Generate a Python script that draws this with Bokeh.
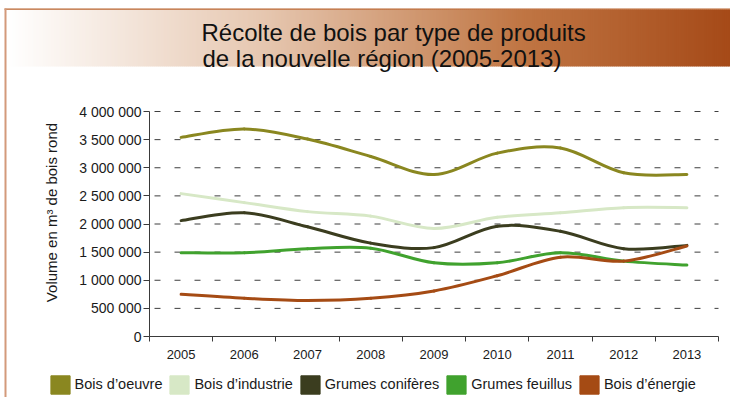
import math
from bokeh.plotting import figure
from bokeh.models import FixedTicker, Legend, LegendItem, Range1d, LinearAxis
from bokeh.core.properties import value
from bokeh.embed import file_html
from bokeh.resources import INLINE

# ---------------- data ----------------
years = ["2005", "2006", "2007", "2008", "2009", "2010", "2011", "2012", "2013"]
bois_oeuvre = [3540000, 3690000, 3510000, 3200000, 2880000, 3260000, 3350000, 2910000, 2880000]
bois_industrie = [2540000, 2380000, 2220000, 2140000, 1920000, 2120000, 2200000, 2290000, 2290000]
grumes_coniferes = [2060000, 2200000, 1950000, 1660000, 1580000, 1960000, 1870000, 1560000, 1620000]
grumes_feuillus = [1490000, 1490000, 1560000, 1570000, 1310000, 1310000, 1490000, 1340000, 1270000]
bois_energie = [750000, 680000, 640000, 680000, 810000, 1080000, 1410000, 1340000, 1610000]

series_names = ["Bois d\u2019oeuvre", "Bois d\u2019industrie", "Grumes conif\u00e8res",
                "Grumes feuillus", "Bois d\u2019\u00e9nergie"]
series_colors = ["#8A8720", "#D7E8C6", "#3B3D1F", "#40A22E", "#A54B14"]

y_ticks = [0, 500000, 1000000, 1500000, 2000000, 2500000, 3000000, 3500000, 4000000]
y_tick_labels = ["0", "500 000", "1 000 000", "1 500 000", "2 000 000",
                 "2 500 000", "3 000 000", "3 500 000", "4 000 000"]

title_lines = ["R\u00e9colte de bois par type de produits",
               "de la nouvelle r\u00e9gion (2005-2013)"]
y_label = ["Volume en m\u00b3 de bois rond"]

FONT = "Liberation Sans"

# ---------------- geometry (pixels) ----------------
W, H = 730, 397
PL, PR, PT, PB = 149, 718, 111, 336   # plot area in canvas pixels
ncat = len(years)
ymax = y_ticks[-1]
ux = (PR - PL) / ncat           # px per category
uy = (PB - PT) / ymax           # px per unit value


def X(px):
    return (px - PL) / ux


def Y(py):
    return (PB - py) / uy


p = figure(width=W, height=H, x_range=Range1d(X(0), X(W)), y_range=Range1d(Y(H), Y(0)),
           output_backend="svg", toolbar_location=None, min_border=0,
           x_axis_location=None, y_axis_location=None, outline_line_color=None)
p.grid.visible = False

# ---------------- frame decoration & title band ----------------
stops = [(0.0, (255, 255, 255)), (0.35, (230, 199, 176)), (0.7, (192, 118, 68)), (1.0, (164, 72, 22))]


def grad(f):
    for (f0, c0), (f1, c1) in zip(stops[:-1], stops[1:]):
        if f <= f1:
            t = (f - f0) / (f1 - f0)
            return "#%02x%02x%02x" % tuple(int(round(a + (b - a) * t)) for a, b in zip(c0, c1))
    return "#%02x%02x%02x" % stops[-1][1]


band_l, band_r, band_t, band_b = 6, W, 9, 66
step = 2
sl = list(range(band_l, band_r, step))
p.quad(left=[X(a) for a in sl], right=[X(a + step + 0.6) for a in sl],
       top=Y(band_t), bottom=Y(band_b),
       fill_color=[grad((a - band_l) / (738 - band_l)) for a in sl], line_color=None)
p.quad(left=X(4), right=X(W), top=Y(8), bottom=Y(9.3), fill_color="#B8622C", line_color=None)
p.quad(left=X(4), right=X(6), top=Y(8), bottom=Y(H), fill_color="#D39A7B", line_color=None)

p.text(x=[X(201), X(202)], y=[Y(32), Y(58)], text=title_lines, text_font=value(FONT),
       text_font_size="24px", text_color="#111111", text_baseline="alphabetic", text_align="left")

# ---------------- grid lines ----------------
p.segment(x0=0, x1=ncat, y0=y_ticks[1:], y1=y_ticks[1:], line_color="#3e3e3e",
          line_width=1, line_dash="6 14", line_dash_offset=15)

# ---------------- series (smoothed) ----------------
xpos = [i + 0.5 for i in range(ncat)]
bounds = list(range(ncat + 1))


def smooth(ys):
    n = len(ys)
    d = dict(x0=[], y0=[], x1=[], y1=[], cx0=[], cy0=[], cx1=[], cy1=[])
    for i in range(n - 1):
        ip = max(i - 1, 0)
        inn = min(i + 2, n - 1)
        d["x0"].append(xpos[i]); d["y0"].append(ys[i])
        d["x1"].append(xpos[i + 1]); d["y1"].append(ys[i + 1])
        d["cx0"].append(xpos[i] + (xpos[i + 1] - xpos[ip]) / 6)
        d["cy0"].append(ys[i] + (ys[i + 1] - ys[ip]) / 6)
        d["cx1"].append(xpos[i + 1] - (xpos[inn] - xpos[i]) / 6)
        d["cy1"].append(ys[i + 1] - (ys[inn] - ys[i]) / 6)
    return d


all_series = [bois_oeuvre, bois_industrie, grumes_coniferes, grumes_feuillus, bois_energie]
for ys, col in zip(all_series, series_colors):
    d = smooth(ys)
    p.bezier(x0=d["x0"], y0=d["y0"], x1=d["x1"], y1=d["y1"], cx0=d["cx0"], cy0=d["cy0"],
             cx1=d["cx1"], cy1=d["cy1"], line_color=col, line_width=3, line_cap="round")

# ---------------- axes ----------------
xaxis = LinearAxis(fixed_location=0, bounds=(0, ncat),
                   ticker=FixedTicker(ticks=xpos, minor_ticks=bounds))
xaxis.major_label_overrides = {x: y for x, y in zip(xpos, years)}
xaxis.major_tick_out = 0
xaxis.major_tick_in = 0
xaxis.minor_tick_out = 5
xaxis.minor_tick_in = 0
xaxis.major_label_standoff = 8
xaxis.major_label_text_font_size = "13px"

yaxis = LinearAxis(fixed_location=0, bounds=(0, ymax), ticker=FixedTicker(ticks=y_ticks))
yaxis.major_label_overrides = {t: l for t, l in zip(y_ticks, y_tick_labels)}
yaxis.major_tick_out = 6
yaxis.major_tick_in = 0
yaxis.minor_tick_out = 0
yaxis.minor_tick_in = 0
yaxis.major_label_standoff = 2
yaxis.major_label_text_font_size = "14px"

for ax in (xaxis, yaxis):
    ax.axis_line_color = "#3a3a3a"
    ax.major_tick_line_color = "#3a3a3a"
    ax.minor_tick_line_color = "#3a3a3a"
    ax.major_label_text_font = FONT
    ax.major_label_text_color = "#1a1a1a"
p.add_layout(xaxis, "below")
p.add_layout(yaxis, "left")

p.text(x=[X(51)], y=[Y(212)], text=y_label, angle=math.pi / 2, text_font=value(FONT),
       text_font_size="15px", text_color="#1a1a1a", text_align="center", text_baseline="middle")

# ---------------- legend with square swatches ----------------
nan = float("nan")
items = []
for name, col in zip(series_names, series_colors):
    r = p.quad(left=[nan], right=[nan], top=[nan], bottom=[nan], fill_color=col, line_color=col)
    items.append(LegendItem(label=name, renderers=[r]))
# area swatches are inset by 10% of the glyph box, hence the larger box
legend = Legend(items=items, orientation="horizontal", location=(47.6, H - 395.5),
                label_text_font=FONT, label_text_font_size="14.5px", label_text_color="#1a1a1a",
                glyph_width=24, glyph_height=23, label_standoff=3, spacing=5,
                padding=0, margin=0, border_line_color=None, background_fill_alpha=0,
                label_height=23)
p.add_layout(legend)

open("out.html", "w").write(file_html(p, INLINE))
